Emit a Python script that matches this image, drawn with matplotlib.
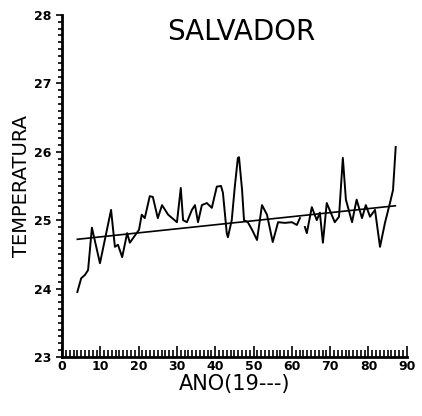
import numpy as np
import matplotlib.pyplot as plt
from matplotlib.ticker import MultipleLocator

# serie de temperatura media anual - Salvador
anos = [4, 5, 6, 6.8, 7.8, 9.9, 12.8, 13.8, 14.6, 15.7, 17, 17.7, 20.1, 20.8,
        21.6, 22.9, 23.7, 25, 26.1, 27.7, 30, 31, 31.6, 32.6, 33.9, 34.7, 35.5,
        36.5, 37.8, 39.1, 40.4, 41.5, 42, 43, 43.3, 44.3, 45.1, 45.9, 46.2,
        47, 47.5, 48.5, 49.6, 50.9, 52.2, 53.5, 55, 56.4, 58.2, 60, 61.3, 62.1,
        62.8, 63.4, 63.9, 65.2, 66.5, 67.3, 68.1, 69.1, 71.2, 72.3, 73.3, 74.1,
        75.7, 76.9, 78.3, 79.3, 80.4, 81.7, 83, 84.3, 85.6, 86.4, 87.1]
temp = [23.95, 24.15, 24.2, 24.27, 24.89, 24.37, 25.15, 24.61, 24.64, 24.46,
        24.81, 24.67, 24.86, 25.08, 25.03, 25.35, 25.34, 25.03, 25.22, 25.08,
        24.97, 25.47, 25.0, 24.97, 25.15, 25.22, 24.97, 25.22, 25.25, 25.18,
        25.49, 25.50, 25.40, 24.81, 24.75, 25.0, 25.49, 25.91, 25.92, 25.44,
        25.0, 24.97, 24.86, 24.71, 25.22, 25.08, 24.68, 24.97, 24.96, 24.97,
        24.93, 25.03, np.nan, 24.90, 24.81, 25.19, 25.0, 25.11, 24.67, 25.25,
        24.97, 25.05, 25.91, 25.30, 24.97, 25.30, 25.03, 25.22, 25.05, 25.15,
        24.61, 24.96, 25.25, 25.44, 26.07]

# reta de tendencia
anos_tend = [4, 87]
temp_tend = [24.72, 25.21]

fig = plt.figure(figsize=(4.22, 4.16), dpi=100)
ax = fig.add_axes([0.147, 0.142, 0.817, 0.822])

ax.plot(anos, temp, color='black', lw=1.4)
ax.plot(anos_tend, temp_tend, color='black', lw=1.2)

ax.set_xlim(0, 90)
ax.set_ylim(23, 28)
ax.xaxis.set_major_locator(MultipleLocator(10))
ax.xaxis.set_minor_locator(MultipleLocator(1))
ax.yaxis.set_major_locator(MultipleLocator(1))
ax.yaxis.set_minor_locator(MultipleLocator(0.1))
ax.tick_params(axis='x', which='both', direction='in', width=1.2)
ax.tick_params(axis='x', which='major', length=8, labelsize=9, pad=2)
ax.tick_params(axis='x', which='minor', length=5)
ax.tick_params(axis='y', which='both', direction='out', width=1.2)
ax.tick_params(axis='y', which='major', length=4, labelsize=9)
ax.tick_params(axis='y', which='minor', length=3)
for lab in ax.get_xticklabels() + ax.get_yticklabels():
    lab.set_fontweight('bold')

ax.spines['top'].set_visible(False)
ax.spines['right'].set_visible(False)
ax.spines['left'].set_linewidth(2)
ax.spines['bottom'].set_linewidth(2)

ax.set_xlabel('ANO(19---)', fontsize=15, labelpad=1)
ax.set_ylabel('TEMPERATURA', fontsize=14, labelpad=2)
ax.text(0.52, 0.95, 'SALVADOR', transform=ax.transAxes, ha='center',
        va='center', fontsize=20)

fig.savefig('out.png', dpi=100)
